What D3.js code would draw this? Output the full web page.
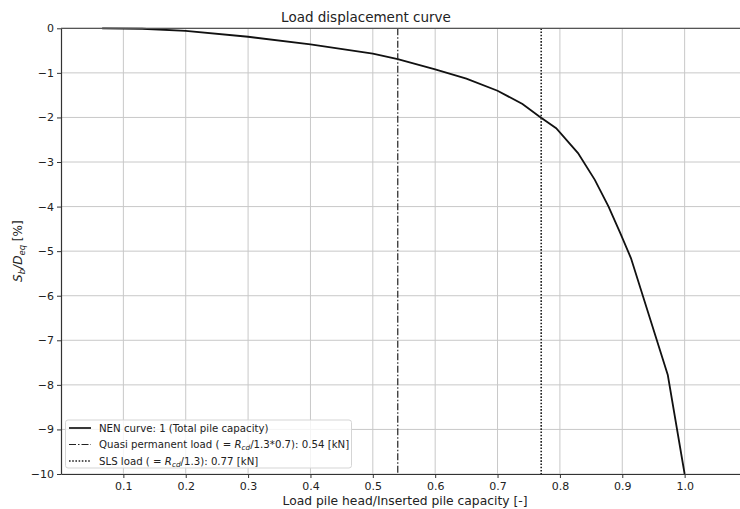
<!DOCTYPE html>
<meta charset="utf-8">
<style>
body { margin: 0; background: #fff; }
text { font-family: "DejaVu Sans", sans-serif; fill: #222; }
.grid line { stroke: #c8c8c8; stroke-width: 1; }
.axis path, .axis line { stroke: #333; }
</style>
<svg width="740" height="509"></svg>
<script src="https://d3js.org/d3.v7.min.js"></script>
<script>

// data
var loadFrac = [0.066, 0.13, 0.2, 0.3, 0.4, 0.5, 0.54, 0.6, 0.65, 0.7, 0.74, 0.767, 0.794, 0.829, 0.856, 0.878, 0.897, 0.914, 0.973, 1.0];
var settle   = [0, -0.01, -0.06, -0.19, -0.36, -0.57, -0.69, -0.92, -1.13, -1.40, -1.70, -1.98, -2.24, -2.80, -3.40, -4.00, -4.60, -5.16, -7.78, -10];
var quasiLoad = 0.54;
var slsLoad = 0.77;
var xTicks = [0.1, 0.2, 0.3, 0.4, 0.5, 0.6, 0.7, 0.8, 0.9, 1.0];
var yTicks = [0, -1, -2, -3, -4, -5, -6, -7, -8, -9, -10];

var svg = d3.select("svg"),
    margin = {left: 61, top: 28.3, bottom: 474},
    right = 747;

var x = d3.scaleLinear().domain([0, 1.1]).range([margin.left, right]);
var y = d3.scaleLinear().domain([-10, 0]).range([margin.bottom, margin.top]);

// grid
var grid = svg.append("g").attr("class", "grid");
grid.selectAll(".gx").data(xTicks).enter().append("line")
    .attr("x1", d => x(d)).attr("x2", d => x(d))
    .attr("y1", y(0)).attr("y2", y(-10));
grid.selectAll(".gy").data(yTicks).enter().append("line")
    .attr("x1", x(0)).attr("x2", right)
    .attr("y1", d => y(d)).attr("y2", d => y(d));

// curve
var pts = loadFrac.map((v, i) => [v, settle[i]]);
svg.append("path")
    .datum(pts)
    .attr("fill", "none")
    .attr("stroke", "#111")
    .attr("stroke-width", 1.8)
    .attr("d", d3.line().x(d => x(d[0])).y(d => y(d[1])));

// vertical load lines
svg.append("line")
    .attr("x1", x(quasiLoad)).attr("x2", x(quasiLoad))
    .attr("y1", y(0)).attr("y2", y(-10))
    .attr("stroke", "#222").attr("stroke-width", 1.2)
    .attr("stroke-dasharray", "7,2,1.5,2");
svg.append("line")
    .attr("x1", x(slsLoad)).attr("x2", x(slsLoad))
    .attr("y1", y(0)).attr("y2", y(-10))
    .attr("stroke", "#222").attr("stroke-width", 1.6)
    .attr("stroke-dasharray", "1.6,1.6");

// axes
var xAxis = svg.append("g").attr("class", "axis")
    .attr("transform", "translate(0," + y(-10) + ")")
    .call(d3.axisBottom(x).tickValues(xTicks).tickSize(4).tickSizeOuter(0).tickFormat(d3.format(".1f")));
xAxis.selectAll("text").attr("font-size", "11px").attr("dy", "0.8em").attr("fill", "#222");

var yAxis = svg.append("g").attr("class", "axis")
    .attr("transform", "translate(" + x(0) + ",0)")
    .call(d3.axisLeft(y).tickValues(yTicks).tickSize(4).tickSizeOuter(0).tickFormat(d => d === 0 ? "0" : "\u2212" + Math.abs(d)));
yAxis.selectAll("text").attr("font-size", "11px").attr("fill", "#222");
xAxis.select(".domain").attr("stroke", "#444").attr("stroke-width", 1.2);
yAxis.select(".domain").attr("stroke", "#444").attr("stroke-width", 1.2);

// top spine
svg.append("line")
    .attr("x1", x(0)).attr("x2", right)
    .attr("y1", y(0)).attr("y2", y(0))
    .attr("stroke", "#555").attr("stroke-width", 1.2);

// title and labels
svg.append("text")
    .attr("x", 366).attr("y", 21.5)
    .attr("text-anchor", "middle")
    .attr("font-size", "13.5px")
    .text("Load displacement curve");

svg.append("text")
    .attr("x", 405).attr("y", 504.5)
    .attr("text-anchor", "middle")
    .attr("font-size", "12.3px")
    .text("Load pile head/Inserted pile capacity [-]");

var yl = svg.append("text")
    .attr("transform", "translate(22," + ((y(0) + y(-10)) / 2) + ") rotate(-90)")
    .attr("text-anchor", "middle")
    .attr("font-size", "12px");
yl.append("tspan").attr("font-style", "italic").text("S");
yl.append("tspan").attr("font-style", "italic").attr("font-size", "8.5px").attr("dy", 3).text("b");
yl.append("tspan").attr("font-style", "italic").attr("dy", -3).text("/D");
yl.append("tspan").attr("font-style", "italic").attr("font-size", "8.5px").attr("dy", 3).text("eq");
yl.append("tspan").attr("dy", -3).text(" [%]");

// legend
var legendItems = [
  {dash: null, w: 1.8, parts: [["NEN curve: 1 (Total pile capacity)", null]]},
  {dash: "7,2,1.5,2", w: 1.2, parts: [["Quasi permanent load ( = ", null], ["R", "i"], ["cd", "s"], ["/1.3*0.7): 0.54 [kN]", null]]},
  {dash: "1.6,1.6", w: 1.6, parts: [["SLS load ( = ", null], ["R", "i"], ["cd", "s"], ["/1.3): 0.77 [kN]", null]]}
];
var lg = svg.append("g");
lg.append("rect")
    .attr("x", 65.5).attr("y", 420).attr("width", 286).attr("height", 48)
    .attr("rx", 2.5)
    .attr("fill", "#fff").attr("fill-opacity", 0.8)
    .attr("stroke", "#d5d5d5");
legendItems.forEach(function(item, i) {
  var ly = 428 + i * 16.5;
  lg.append("line")
      .attr("x1", 69).attr("x2", 91)
      .attr("y1", ly).attr("y2", ly)
      .attr("stroke", "#222").attr("stroke-width", item.w)
      .attr("stroke-dasharray", item.dash);
  var t = lg.append("text").attr("x", 99).attr("y", ly + 3.6).attr("font-size", "10.2px");
  item.parts.forEach(function(p) {
    var s = t.append("tspan").text(p[0]);
    if (p[1] === "i") s.attr("font-style", "italic");
    if (p[1] === "s") s.attr("font-style", "italic").attr("font-size", "7.3px").attr("dy", 2);
    if (p[1] === null && p[0].charAt(0) === "/") s.attr("dy", -2);
  });
});

</script>
